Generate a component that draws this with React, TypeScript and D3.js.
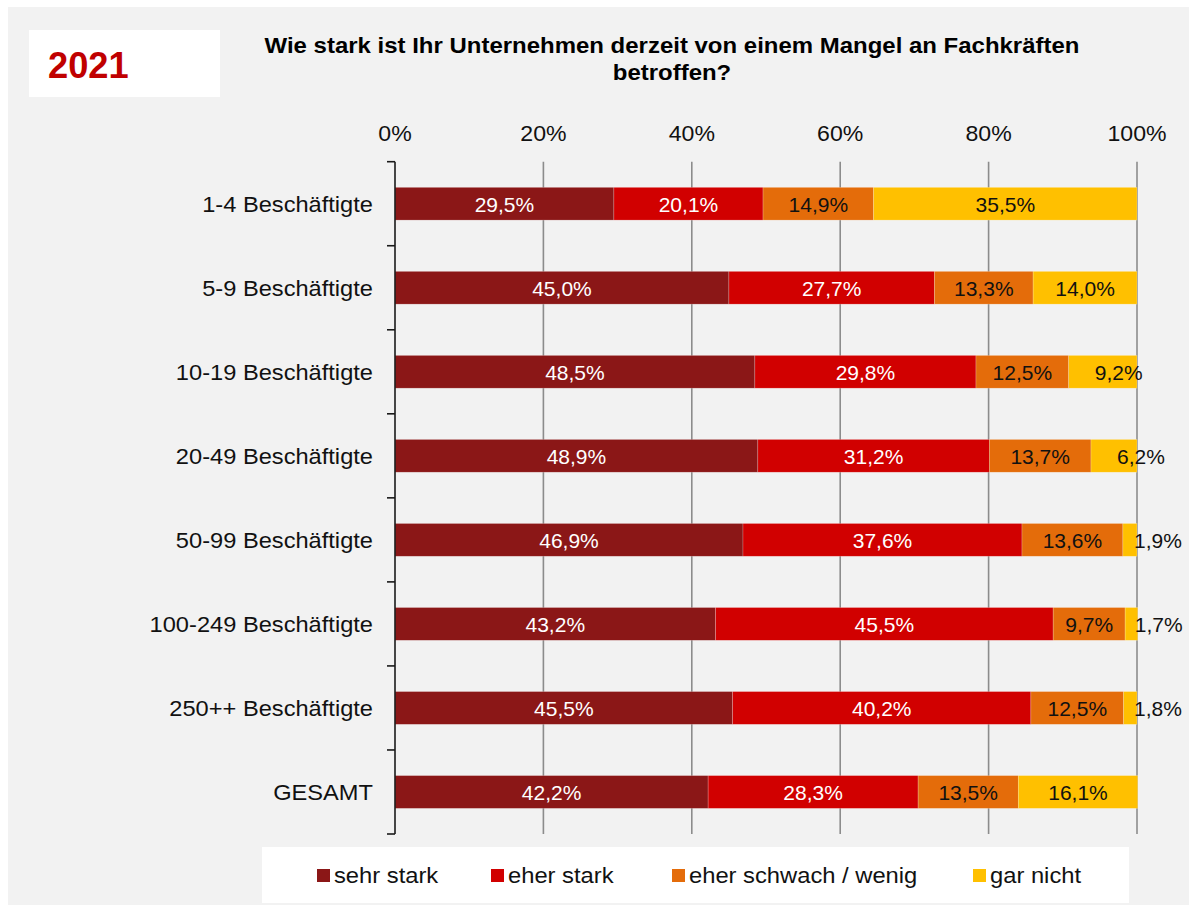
import React from "react";
import * as d3 from "d3";

const categories = [
  "1-4 Beschäftigte",
  "5-9 Beschäftigte",
  "10-19 Beschäftigte",
  "20-49 Beschäftigte",
  "50-99 Beschäftigte",
  "100-249 Beschäftigte",
  "250++ Beschäftigte",
  "GESAMT",
];
const seriesNames = ["sehr stark", "eher stark", "eher schwach / wenig", "gar nicht"];
const sehrStark = [29.5, 45.0, 48.5, 48.9, 46.9, 43.2, 45.5, 42.2];
const eherStark = [20.1, 27.7, 29.8, 31.2, 37.6, 45.5, 40.2, 28.3];
const eherSchwach = [14.9, 13.3, 12.5, 13.7, 13.6, 9.7, 12.5, 13.5];
const garNicht = [35.5, 14.0, 9.2, 6.2, 1.9, 1.7, 1.8, 16.1];
const tickValues = [0, 20, 40, 60, 80, 100];
const titleLines = ["Wie stark ist Ihr Unternehmen derzeit von einem Mangel an Fachkräften", "betroffen?"];
const yearLabel = "2021";

const colors = ["#8B1717", "#D10000", "#E46C0A", "#FFC000"];
const labelColors = ["#ffffff", "#ffffff", "#111111", "#111111"];
const FONT = "Arial, 'Liberation Sans', Helvetica, sans-serif";

const locale = d3.formatLocale({ decimal: ",", thousands: ".", grouping: [3], currency: ["", "€"] });
const fmt = locale.format(".1f");

function T({ x, y, sx = 1, anchor = "start", size, weight = "normal", fill = "#111", children }: any) {
  return (
    <text
      transform={`translate(${x},${y}) scale(${sx},1)`}
      textAnchor={anchor}
      fontSize={size}
      fontWeight={weight}
      fill={fill}
      fontFamily={FONT}
    >
      {children}
    </text>
  );
}

export default function App() {
  const W = 1189;
  const H = 905;
  const rows = categories.map((c, i) => ({
    cat: c,
    s0: sehrStark[i],
    s1: eherStark[i],
    s2: eherSchwach[i],
    s3: garNicht[i],
  }));
  const keys = ["s0", "s1", "s2", "s3"];
  const stacked = d3.stack<any>().keys(keys)(rows);

  const x = d3.scaleLinear().domain([0, 100]).range([395, 1137]);
  const y = d3.scaleBand().domain(categories).range([161.7, 834]).padding(0);
  const barH = y.bandwidth() * 0.39;
  const boundaries = d3.range(categories.length + 1).map((i) => 161.7 + i * y.step());

  const legendSquareX = [317, 491, 672, 973];

  return (
    <svg width={W} height={H} style={{ position: "absolute", left: 0, top: 0 }}>
      <rect x={0} y={0} width={W} height={H} fill="#ffffff" />
      <rect x={8} y={7} width={W - 8} height={H - 7} fill="#f2f2f2" />

      {/* year box */}
      <rect x={29} y={30} width={191} height={67} fill="#ffffff" />
      <T x={48} y={78} size={37} weight="bold" fill="#C00000" sx={0.98}>
        {yearLabel}
      </T>

      {/* title */}
      {titleLines.map((l, i) => (
        <T key={i} x={672} y={53 + i * 27} anchor="middle" size={22} weight="bold" sx={1.09} fill="#000">
          {l}
        </T>
      ))}

      {/* gridlines */}
      {tickValues.slice(1).map((t) => (
        <line key={t} x1={x(t)} x2={x(t)} y1={161.7} y2={834} stroke="#8c8c8c" strokeWidth={1.6} />
      ))}

      {/* tick labels */}
      {tickValues.map((t) => (
        <T key={t} x={x(t)} y={141} anchor="middle" size={22} sx={1.05}>
          {t + "%"}
        </T>
      ))}

      {/* bars */}
      {stacked.map((s, si) => (
        <g key={si}>
          {s.map((d, i) => (
            <rect
              key={i}
              x={x(d[0])}
              y={y(categories[i])! + (y.bandwidth() - barH) / 2}
              width={x(d[1]) - x(d[0])}
              height={barH}
              fill={colors[si]}
              stroke="rgba(255,255,255,0.35)"
              strokeWidth={0.6}
            />
          ))}
        </g>
      ))}

      {/* data labels */}
      {stacked.map((s, si) => (
        <g key={si}>
          {s.map((d, i) => {
            const x0 = x(d[0]);
            const x1 = x(d[1]);
            const v = d[1] - d[0];
            const cy = y(categories[i])! + y.bandwidth() / 2 + 8;
            const small = si === 3 && v < 10;
            const lx = small ? Math.min(x0 + 26, x1 - 3) : (x0 + x1) / 2;
            return (
              <T key={i} x={lx} y={cy} anchor={small ? "start" : "middle"} size={21} fill={labelColors[si]}>
                {fmt(v) + "%"}
              </T>
            );
          })}
        </g>
      ))}

      {/* axis */}
      <line x1={395} x2={395} y1={161.7} y2={834} stroke="#1a1a1a" strokeWidth={1.6} />
      {boundaries.map((b, i) => (
        <line key={i} x1={387} x2={395} y1={b} y2={b} stroke="#1a1a1a" strokeWidth={1.6} />
      ))}

      {/* category labels */}
      {categories.map((c) => (
        <T key={c} x={373} y={y(c)! + y.bandwidth() / 2 + 8} anchor="end" size={22} sx={1.075}>
          {c}
        </T>
      ))}

      {/* legend */}
      <rect x={262} y={847} width={867} height={56} fill="#ffffff" />
      {seriesNames.map((n, i) => (
        <g key={n}>
          <rect x={legendSquareX[i]} y={869} width={13} height={13} fill={colors[i]} />
          <T x={legendSquareX[i] + 17} y={883} size={22} sx={1.08}>
            {n}
          </T>
        </g>
      ))}
    </svg>
  );
}
